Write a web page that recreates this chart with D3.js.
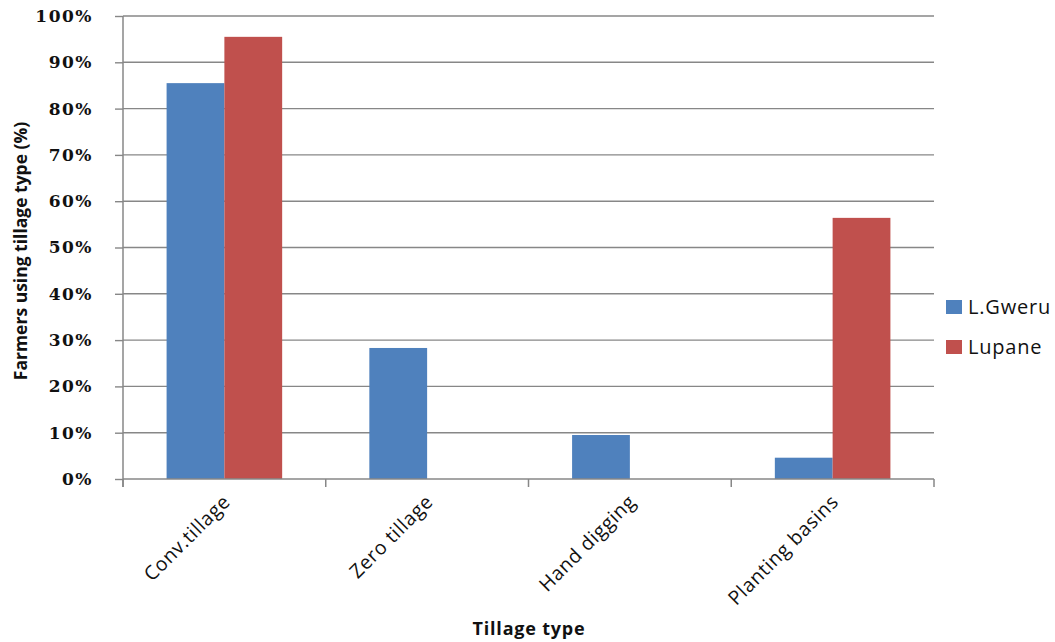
<!DOCTYPE html>
<html>
<head>
<meta charset="utf-8">
<script src="https://cdn.jsdelivr.net/npm/d3@7"></script>
<style>
  html, body { margin: 0; padding: 0; background: #fff; }
  svg { display: block; }
</style>
</head>
<body>
<svg id="chart" width="1055" height="642"></svg>
<script>
// Share of farmers using each tillage type, by district
const categories = ["Conv.tillage", "Zero tillage", "Hand digging", "Planting basins"];
const seriesNames = ["L.Gweru", "Lupane"];
const gweruValues = [85.5, 28.3, 9.5, 4.6];
const lupaneValues = [95.5, 0, 0, 56.4];
const yTicks = [0, 10, 20, 30, 40, 50, 60, 70, 80, 90, 100];
const colors = ["#4f81bd", "#c0504d"];

(function () {
  const svg = d3.select("#chart");
  const plotLeft = 123, plotRight = 934, plotTop = 16, plotBottom = 479;
  const sans = "'Open Sans', sans-serif";

  const x = d3.scaleBand().domain(categories).range([plotLeft, plotRight]).paddingInner(0.43).paddingOuter(0.215);
  const xs = d3.scaleBand().domain(seriesNames).range([0, x.bandwidth()]);
  const y = d3.scaleLinear().domain([0, 100]).range([plotBottom, plotTop]);

  const gridColor = "#878787";

  // horizontal gridlines
  svg.append("g").selectAll("line").data(yTicks.filter(d => d > 0)).join("line")
    .attr("x1", plotLeft).attr("x2", plotRight)
    .attr("y1", d => y(d)).attr("y2", d => y(d))
    .attr("stroke", gridColor).attr("stroke-width", 1.4);

  // bars
  const series = seriesNames.map((name, i) => ({ name, values: i === 0 ? gweruValues : lupaneValues, color: colors[i] }));
  series.forEach(s => {
    svg.append("g").selectAll("rect").data(categories.map((c, j) => ({ c, v: s.values[j] }))).join("rect")
      .attr("x", d => x(d.c) + xs(s.name))
      .attr("width", xs.bandwidth())
      .attr("y", d => y(d.v))
      .attr("height", d => plotBottom - y(d.v))
      .attr("fill", s.color);
  });

  // y axis
  const yAxis = svg.append("g").attr("transform", `translate(${plotLeft},0)`)
    .call(d3.axisLeft(y).tickValues(yTicks).tickSize(8).tickPadding(22).tickFormat(d => d + "%"));
  yAxis.select(".domain").attr("stroke", gridColor).attr("stroke-width", 1.5).attr("d", `M0,${plotTop}V${plotBottom + 8}`);
  yAxis.selectAll(".tick line").attr("stroke", gridColor).attr("stroke-width", 1.4);
  yAxis.selectAll(".tick text")
    .attr("font-family", "'DejaVu Serif', serif")
    .attr("font-size", 17).attr("font-weight", "bold").attr("fill", "#111")
    .attr("letter-spacing", 1.5);

  // x axis baseline
  const xAxis = svg.append("g").attr("transform", `translate(0,${plotBottom})`)
    .call(d3.axisBottom(x).tickSize(0).tickFormat(""));
  xAxis.select(".domain").attr("stroke", gridColor).attr("stroke-width", 1.5).attr("d", `M${plotLeft},0H${plotRight}`);

  // category boundary ticks
  const boundaries = d3.range(categories.length + 1).map(i => plotLeft + (plotRight - plotLeft) * i / categories.length);
  svg.append("g").selectAll("line").data(boundaries).join("line")
    .attr("x1", d => d).attr("x2", d => d)
    .attr("y1", plotBottom).attr("y2", plotBottom + 8)
    .attr("stroke", gridColor).attr("stroke-width", 1.5);

  // rotated category labels
  svg.append("g").selectAll("text").data(categories).join("text")
    .attr("transform", d => `translate(${x(d) + x.bandwidth() / 2 + 7},${plotBottom + 24}) rotate(-45)`)
    .attr("text-anchor", "end")
    .attr("font-family", sans)
    .attr("font-size", 19.5).attr("letter-spacing", 0.6).attr("fill", "#111")
    .text(d => d);

  // axis titles
  svg.append("text")
    .attr("transform", `translate(27,251) rotate(-90)`)
    .attr("text-anchor", "middle")
    .attr("font-family", sans)
    .attr("font-size", 17.5).attr("font-weight", "bold").attr("fill", "#111")
    .text("Farmers using tillage type (%)");

  svg.append("text")
    .attr("x", 529).attr("y", 635)
    .attr("text-anchor", "middle")
    .attr("font-family", sans)
    .attr("font-size", 18).attr("font-weight", "bold").attr("letter-spacing", 0.8).attr("fill", "#111")
    .text("Tillage type");

  // legend
  const legend = svg.append("g").attr("transform", "translate(946,300)");
  series.forEach((s, i) => {
    const g = legend.append("g").attr("transform", `translate(0,${i * 40})`);
    g.append("rect").attr("width", 16).attr("height", 14).attr("fill", s.color);
    g.append("text").attr("x", 22).attr("y", 14)
      .attr("font-family", sans)
      .attr("font-size", 20).attr("letter-spacing", 0.8).attr("fill", "#111")
      .text(s.name);
  });
})();
</script>
</body>
</html>
